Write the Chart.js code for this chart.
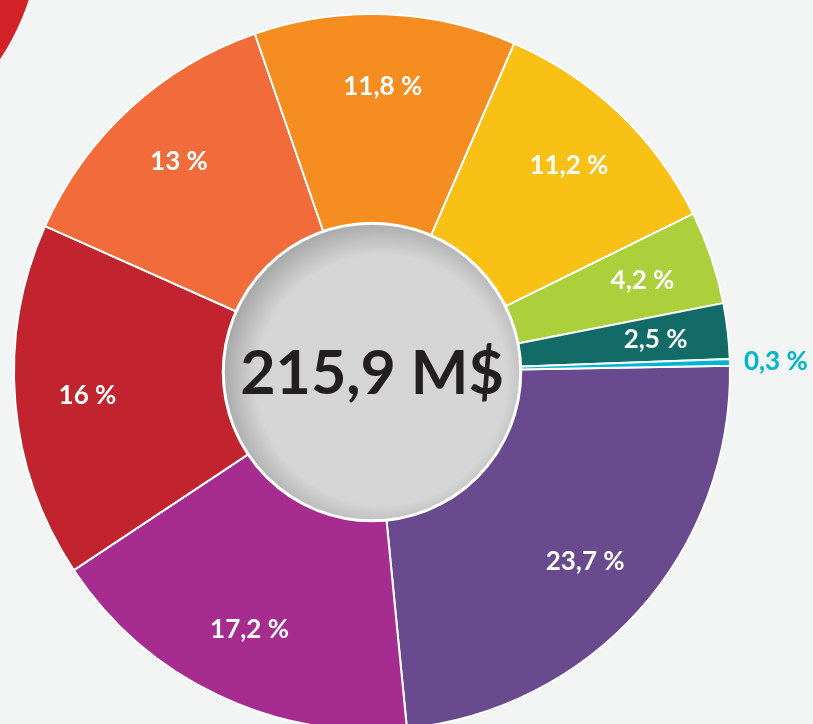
<!DOCTYPE html>
<html>
<head>
  <meta charset="utf-8">
  <title>Répartition 215,9 M$</title>
  <script src="https://cdn.jsdelivr.net/npm/chart.js"></script>
  <style>
    html, body { margin: 0; padding: 0; background: #f3f4f4; overflow: hidden; }
  </style>
</head>
<body>
  <canvas id="chart" width="813" height="760"></canvas>

  <script>
    // slice values (%), clockwise from 3 o'clock
    const shares  = [23.7, 17.2, 16, 13, 11.8, 11.2, 4.2, 2.5, 0.3];
    const colours = ['#6a4a8e', '#a72c8f', '#c1242e', '#f26b3a', '#f58d21', '#f9c016', '#acd03b', '#126b66', '#00b5cf'];
    const centerLabel = '215,9 M$';

    const fmt = v => String(v).replace('.', ',') + ' %';

    // page background + the red disc peeking in the corner
    const backdrop = {
      id: 'backdrop',
      beforeDraw(chart) {
        const ctx = chart.ctx;
        ctx.save();
        ctx.fillStyle = '#f3f4f4';
        ctx.fillRect(0, 0, chart.width, chart.height);
        ctx.fillStyle = '#d42027';
        ctx.beginPath();
        ctx.arc(-206, -77, 247, 0, Math.PI * 2);
        ctx.fill();
        ctx.restore();
      }
    };

    // grey hub, total text and the % labels
    const hubAndLabels = {
      id: 'hubAndLabels',
      afterDatasetsDraw(chart) {
        const ctx = chart.ctx;
        const meta = chart.getDatasetMeta(0);
        const first = meta.data[0].getProps(['x', 'y', 'innerRadius', 'outerRadius'], true);
        const cx = first.x, cy = first.y, hr = first.innerRadius + 4;

        ctx.save();
        ctx.beginPath();
        ctx.arc(cx, cy, hr, 0, Math.PI * 2);
        ctx.fillStyle = '#d5d5d5';
        ctx.fill();
        ctx.clip();
        const g = ctx.createRadialGradient(cx + 10, cy + 8, 0, cx + 10, cy + 8, hr + 12);
        g.addColorStop(0, 'rgba(0,0,0,0)');
        g.addColorStop(0.78, 'rgba(0,0,0,0)');
        g.addColorStop(1, 'rgba(0,0,0,0.22)');
        ctx.fillStyle = g;
        ctx.fillRect(cx - hr, cy - hr, hr * 2, hr * 2);
        ctx.restore();

        ctx.save();
        ctx.beginPath();
        ctx.arc(cx, cy, hr, 0, Math.PI * 2);
        ctx.strokeStyle = '#ffffff';
        ctx.lineWidth = 3;
        ctx.stroke();

        ctx.fillStyle = '#231f20';
        ctx.font = 'bold 61px Lato';
        ctx.textAlign = 'center';
        ctx.textBaseline = 'middle';
        ctx.fillText(centerLabel, cx, cy + 2);

        ctx.font = 'bold 26px Lato';
        meta.data.forEach((arc, i) => {
          const p = arc.getProps(['x', 'y', 'startAngle', 'endAngle', 'innerRadius', 'outerRadius'], true);
          const mid = (p.startAngle + p.endAngle) / 2;
          const small = shares[i] < 1;
          const r = small ? p.outerRadius + 46 : p.innerRadius + (p.outerRadius - p.innerRadius) * 0.66;
          ctx.fillStyle = small ? colours[i] : '#ffffff';
          ctx.fillText(fmt(shares[i]), p.x + Math.cos(mid) * r, p.y + Math.sin(mid) * r);
        });
        ctx.restore();
      }
    };

    new Chart(document.getElementById('chart'), {
      type: 'doughnut',
      data: {
        labels: shares.map(fmt),
        datasets: [{
          data: shares,
          backgroundColor: colours,
          borderColor: '#ffffff',
          borderWidth: 2,
          hoverOffset: 0
        }]
      },
      options: {
        responsive: false,
        animation: false,
        events: [],
        rotation: 89,
        radius: 358,
        cutout: 150,
        layout: { padding: { left: 0, top: 0, right: 69, bottom: 16 } },
        plugins: { legend: { display: false }, tooltip: { enabled: false } }
      },
      plugins: [backdrop, hubAndLabels]
    });
  </script>
</body>
</html>
